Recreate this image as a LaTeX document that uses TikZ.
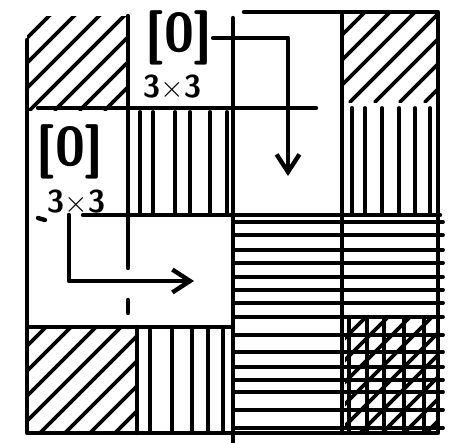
\documentclass[tikz,border=0pt]{standalone}
\usetikzlibrary{arrows.meta}
\begin{document}
\begin{tikzpicture}[
    x=0.02cm, y=-0.02cm,
    pen/.style={line width=2.5pt, line cap=round, line join=round},
    hatch/.style={line width=2.2pt, line cap=round},
    arr/.style={pen, -{Straight Barb[length=10pt, width=13pt, line width=2.5pt]}},
    zero/.style={inner sep=0pt, font=\sffamily\bfseries\fontsize{31}{31}\selectfont},
    dim/.style={inner sep=0pt, font=\sffamily\bfseries\fontsize{18}{18}\selectfont}
]
\useasboundingbox (0,0) rectangle (454,443);

% diagonal hatching in the corners
\begin{scope}
\clip (27,16) rectangle (128,110);
\foreach \k in {-70,-45,...,130} \draw[hatch] (\k,110) -- ++(110,-110);
\end{scope}
\begin{scope}
\clip (342,12) rectangle (438,102);
\foreach \k in {250,275,...,440} \draw[hatch] (\k,102) -- ++(110,-110);
\end{scope}
\begin{scope}
\clip (27,327) rectangle (137,433);
\foreach \k in {-60,-35,...,140} \draw[hatch] (\k,433) -- ++(110,-110);
\end{scope}

% vertical hatching
\foreach \x in {140,153,175,190,210,227} \draw[hatch] (\x,112) -- (\x,213);
\foreach \x in {352,365,382,399,415,430} \draw[hatch] (\x,108) -- (\x,213);
\foreach \x in {150,172,192,208,223} \draw[hatch] (\x,330) -- (\x,431);

% horizontal hatching and the crossed corner
\foreach \y in {222,235,250,263,277,290,303,317,335,352,367,380,392,410,428}
    \draw[hatch] (233,\y) -- (443,\y);
\foreach \x in {349,367,384,404,424} \draw[hatch] (\x,317) -- (\x,433);
\begin{scope}
\clip (345,317) rectangle (438,433);
\foreach \k in {250,272,...,440} \draw[hatch] (\k,433) -- ++(120,-120);
\end{scope}

% frame and grid
\draw[pen] (27,40) -- (27,433) -- (438,433) -- (438,12) -- (244,12);
\draw[pen] (128,16) -- (128,268);
\draw[pen] (128,300) -- (128,313);
\draw[pen] (233,18) -- (233,443);
\draw[pen] (342,15) -- (342,433);
\draw[pen] (38,108) -- (316,108);
\draw[pen] (83,215) -- (440,215);
\draw[pen] (38,218) -- (45,220);
\draw[pen] (27,327) -- (233,327);
\draw[pen] (137,327) -- (137,433);

% labels and arrows
\node[zero] (zeroA) at (179,38) {[0]};
\node[dim] (dimA) at (172,87) {3$\times$3};
\node[zero] (zeroB) at (70,152) {[0]};
\node[dim] (dimB) at (76,202) {3$\times$3};
\coordinate (endA) at (288,176);
\coordinate (endB) at (194,281);

\draw[arr] (zeroA.east) -| (endA);
\draw[arr] ([xshift=-4pt]dimB.south) |- (endB);
\end{tikzpicture}
\end{document}
